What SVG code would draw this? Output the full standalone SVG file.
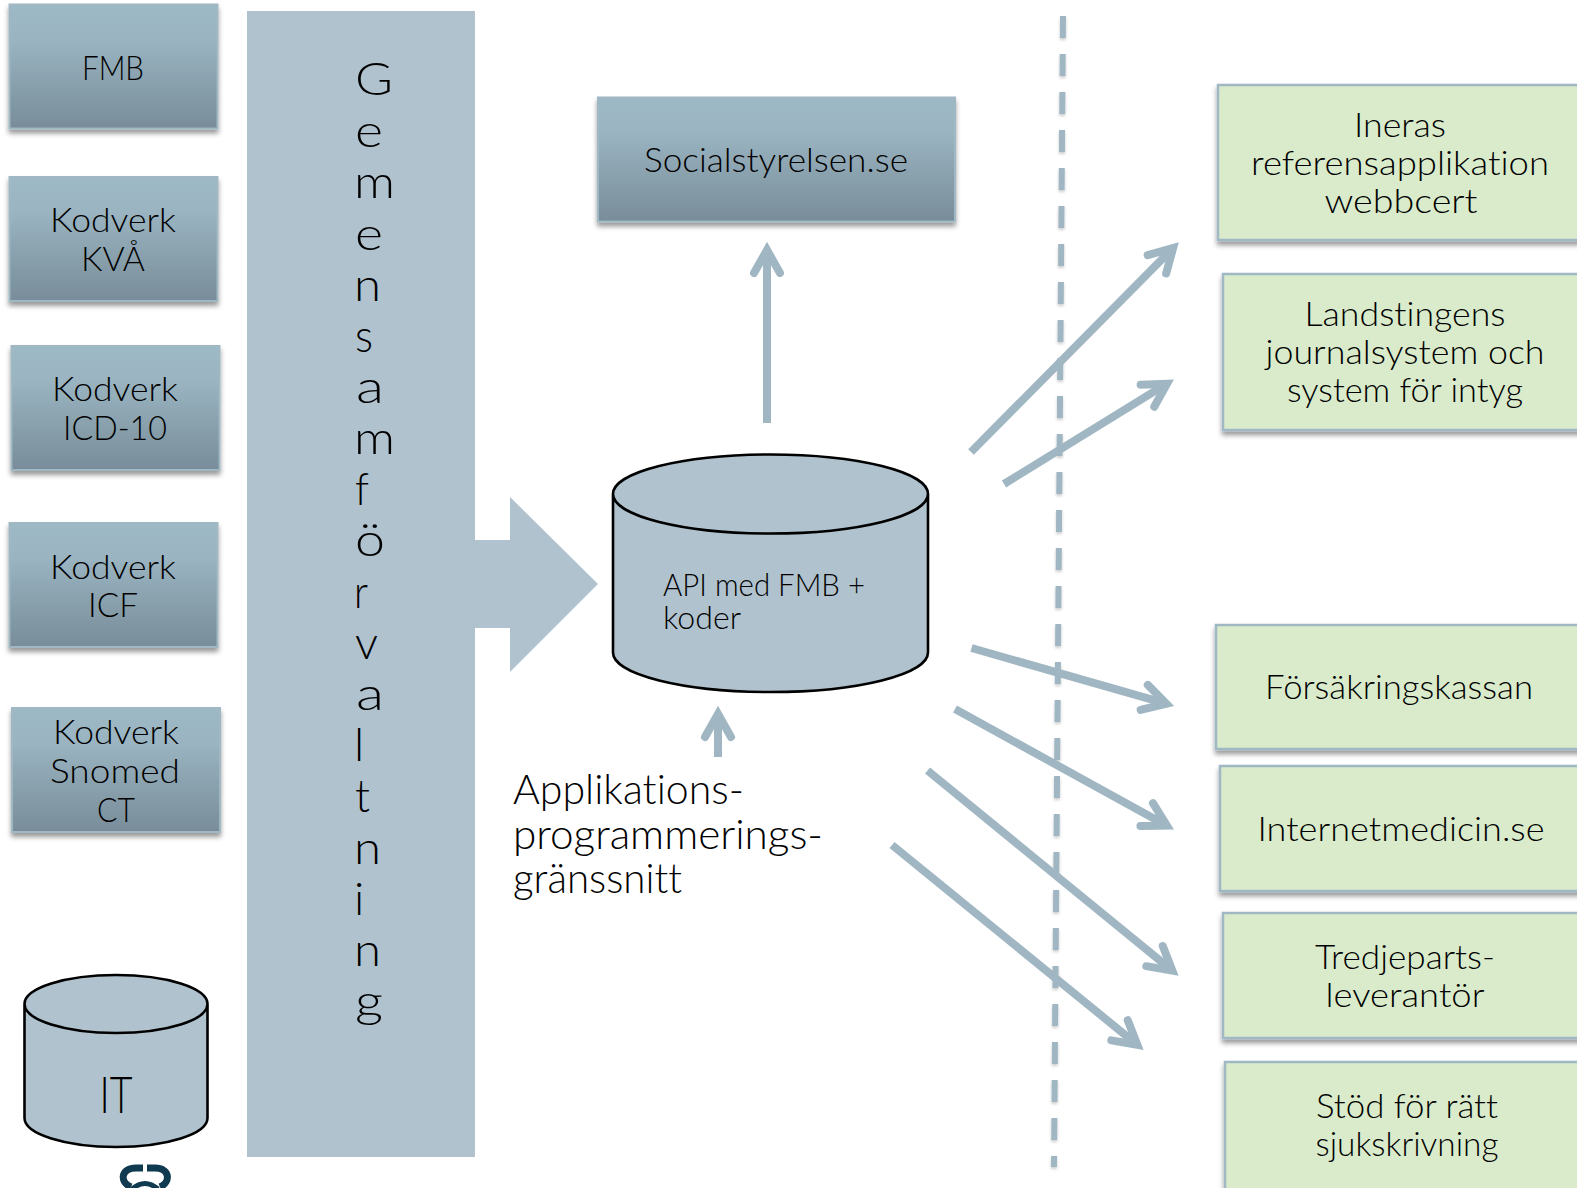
<svg xmlns="http://www.w3.org/2000/svg" width="1577" height="1188" viewBox="0 0 1577 1188">
<style>
text{font-family:"Lato","Open Sans",sans-serif;font-weight:300;fill:#000;font-size:34px;text-anchor:middle;font-variant-ligatures:none}
.l{text-anchor:start}
.s{font-size:31px}
.b{font-size:41px}
.blue{fill:url(#g);stroke:#a0b8c4;stroke-width:2}
.green{fill:#d9ebcb;stroke:#a0b8c4;stroke-width:2.5}
.cyl{fill:#b0c2ce;stroke:#000;stroke-width:2.6}
.a{fill:none;stroke:#a0b7c3;stroke-width:8;marker-end:url(#m)}
.gm{font-size:46px;text-anchor:start}
</style>
<defs>
<linearGradient id="g" x1="0" y1="0" x2="0" y2="1"><stop offset="0" stop-color="#9eb9c6"/><stop offset=".28" stop-color="#9ab4c1"/><stop offset="1" stop-color="#788d99"/></linearGradient>
<filter id="s" x="-5%" y="-5%" width="110%" height="115%"><feDropShadow dx="0" dy="4" stdDeviation="2.5" flood-color="#000" flood-opacity=".4"/></filter>
<filter id="d" filterUnits="userSpaceOnUse" x="1040" y="0" width="40" height="1188"><feDropShadow dx="0" dy="2" stdDeviation="1.5" flood-color="#000" flood-opacity=".2"/></filter>
<marker id="m" markerUnits="userSpaceOnUse" markerWidth="50" markerHeight="50" refX="29" refY="25" orient="auto" overflow="visible"><path d="M8,12 L31,25 L8,38" fill="none" stroke="#a0b7c3" stroke-width="8" stroke-linecap="round" stroke-linejoin="miter" stroke-miterlimit="10"/></marker>
</defs>
<rect width="1577" height="1188" fill="#fff"/>
<g id="gemensam">
<rect x="247" y="11" width="228" height="1146" fill="#b0c2ce"/>
<text class="gm" x="355" y="95" textLength="38" lengthAdjust="spacingAndGlyphs">G</text><text class="gm" x="355" y="147" textLength="28" lengthAdjust="spacingAndGlyphs">e</text><text class="gm" x="354" y="198" textLength="41" lengthAdjust="spacingAndGlyphs">m</text><text class="gm" x="355" y="250" textLength="28" lengthAdjust="spacingAndGlyphs">e</text><text class="gm" x="354" y="301" textLength="27" lengthAdjust="spacingAndGlyphs">n</text><text class="gm" x="355" y="352" textLength="18" lengthAdjust="spacingAndGlyphs">s</text><text class="gm" x="356" y="403" textLength="28" lengthAdjust="spacingAndGlyphs">a</text><text class="gm" x="354" y="454" textLength="41" lengthAdjust="spacingAndGlyphs">m</text><text class="gm" x="355" y="505" textLength="14" lengthAdjust="spacingAndGlyphs">f</text><text class="gm" x="355" y="556" textLength="30" lengthAdjust="spacingAndGlyphs">ö</text><text class="gm" x="354" y="608" textLength="14" lengthAdjust="spacingAndGlyphs">r</text><text class="gm" x="355" y="659" textLength="23" lengthAdjust="spacingAndGlyphs">v</text><text class="gm" x="356" y="710" textLength="28" lengthAdjust="spacingAndGlyphs">a</text><text class="gm" x="354" y="761">l</text><text class="gm" x="355" y="812" textLength="15" lengthAdjust="spacingAndGlyphs">t</text><text class="gm" x="354" y="864" textLength="27" lengthAdjust="spacingAndGlyphs">n</text><text class="gm" x="354" y="915">i</text><text class="gm" x="354" y="966" textLength="27" lengthAdjust="spacingAndGlyphs">n</text><text class="gm" x="355" y="1017" textLength="28" lengthAdjust="spacingAndGlyphs">g</text>
</g>
<g id="big-arrow"><path d="M475,540H510V497L598,584L510,672V628H475Z" fill="#b0c2ce"/></g>
<g id="fmb"><rect class="blue" x="9.500" y="4.500" width="208" height="124" filter="url(#s)"/><text x="113" y="80" textLength="62" lengthAdjust="spacingAndGlyphs">FMB</text></g>
<g id="kva"><rect class="blue" x="9.500" y="177" width="208" height="124" filter="url(#s)"/><text x="113" y="232" textLength="126" lengthAdjust="spacingAndGlyphs">Kodverk</text><text x="113" y="271" textLength="64" lengthAdjust="spacingAndGlyphs">KVÅ</text></g>
<g id="icd"><rect class="blue" x="11.500" y="346" width="208" height="124" filter="url(#s)"/><text x="115" y="401" textLength="126" lengthAdjust="spacingAndGlyphs">Kodverk</text><text x="115" y="440" textLength="104" lengthAdjust="spacingAndGlyphs">ICD-10</text></g>
<g id="icf"><rect class="blue" x="9.500" y="523" width="208" height="124" filter="url(#s)"/><text x="113" y="579" textLength="126" lengthAdjust="spacingAndGlyphs">Kodverk</text><text x="113" y="617" textLength="50" lengthAdjust="spacingAndGlyphs">ICF</text></g>
<g id="snomed"><rect class="blue" x="12" y="708" width="208" height="124" filter="url(#s)"/><text x="116" y="744" textLength="126" lengthAdjust="spacingAndGlyphs">Kodverk</text><text x="115" y="783" textLength="130" lengthAdjust="spacingAndGlyphs">Snomed</text><text x="116" y="822" textLength="38" lengthAdjust="spacingAndGlyphs">CT</text></g>
<g id="socialstyrelsen"><rect class="blue" x="598" y="97.500" width="357" height="124" filter="url(#s)"/><text x="776" y="172" textLength="264" lengthAdjust="spacingAndGlyphs">Socialstyrelsen.se</text></g>
<g id="api"><path class="cyl" d="M613,494V652.500A157.500,39.500 0 0 0 928,652.500V494A157.500,39.500 0 0 0 613,494A157.500,39.500 0 0 0 928,494"/><text class="l s" x="663" y="596" textLength="202" lengthAdjust="spacingAndGlyphs">API med FMB +</text><text class="l s" x="663" y="629" textLength="78" lengthAdjust="spacingAndGlyphs">koder</text></g>
<g id="it"><path class="cyl" d="M24.500,1004V1118A91.500,29 0 0 0 207.500,1118V1004A91.500,29 0 0 0 24.500,1004A91.500,29 0 0 0 207.500,1004"/><text x="116" y="1113" textLength="33" lengthAdjust="spacingAndGlyphs" style="font-size:51px">IT</text></g>
<g id="ineras"><rect class="green" x="1218" y="85" width="370" height="155" filter="url(#s)"/><text x="1400" y="137" textLength="92" lengthAdjust="spacingAndGlyphs">Ineras</text><text x="1400" y="175" textLength="298" lengthAdjust="spacingAndGlyphs">referensapplikation</text><text x="1401" y="213" textLength="153" lengthAdjust="spacingAndGlyphs">webbcert</text></g>
<g id="landsting"><rect class="green" x="1223" y="274" width="370" height="156" filter="url(#s)"/><text x="1405" y="326" textLength="201" lengthAdjust="spacingAndGlyphs">Landstingens</text><text x="1405" y="364" textLength="279" lengthAdjust="spacingAndGlyphs">journalsystem och</text><text x="1405" y="402" textLength="236" lengthAdjust="spacingAndGlyphs">system för intyg</text></g>
<g id="fk"><rect class="green" x="1216" y="625" width="370" height="124" filter="url(#s)"/><text x="1399" y="699" textLength="268" lengthAdjust="spacingAndGlyphs">Försäkringskassan</text></g>
<g id="internetmedicin"><rect class="green" x="1220" y="766" width="370" height="125" filter="url(#s)"/><text x="1401" y="841" textLength="287" lengthAdjust="spacingAndGlyphs">Internetmedicin.se</text></g>
<g id="tredje"><rect class="green" x="1223" y="913" width="370" height="125" filter="url(#s)"/><text x="1405" y="969" textLength="180" lengthAdjust="spacingAndGlyphs">Tredjeparts-</text><text x="1405" y="1007" textLength="159" lengthAdjust="spacingAndGlyphs">leverantör</text></g>
<g id="stod"><rect class="green" x="1225" y="1062" width="370" height="135" filter="url(#s)"/><text x="1407" y="1118" textLength="182" lengthAdjust="spacingAndGlyphs">Stöd för rätt</text><text x="1407" y="1156" textLength="183" lengthAdjust="spacingAndGlyphs">sjukskrivning</text></g>
<g id="api-label"><text class="l b" x="513" y="804" textLength="231" lengthAdjust="spacingAndGlyphs">Applikations-</text><text class="l b" x="513" y="849" textLength="310" lengthAdjust="spacingAndGlyphs">programmerings-</text><text class="l b" x="513" y="893" textLength="169" lengthAdjust="spacingAndGlyphs">gränssnitt</text></g>
<g id="logo" fill="none" stroke="#0f3a50"><path d="M131,1187C119,1182 121,1168 136,1168H143M147,1168H155C170,1168 171,1182 160,1187" stroke-width="7"/><path d="M132,1189Q145,1178 158,1189" stroke-width="5"/></g>
<g id="connectors">
<path d="M1063,16L1054,1167" fill="none" stroke="#a0b7c3" stroke-width="6" stroke-dasharray="22,16" filter="url(#d)"/>
<line class="a" x1="767" y1="423" x2="767" y2="252"/>
<line class="a" x1="718" y1="757" x2="718" y2="716"/>
<line class="a" x1="971" y1="452" x2="1171.700" y2="249.400"/>
<line class="a" x1="1004" y1="484" x2="1165.300" y2="384.700"/>
<line class="a" x1="971.500" y1="648" x2="1164.400" y2="703.200"/>
<line class="a" x1="955" y1="709" x2="1165.100" y2="824.700"/>
<line class="a" x1="927.500" y1="770.500" x2="1170.800" y2="969.400"/>
<line class="a" x1="892" y1="845" x2="1135.800" y2="1043.600"/>
</g>
</svg>
